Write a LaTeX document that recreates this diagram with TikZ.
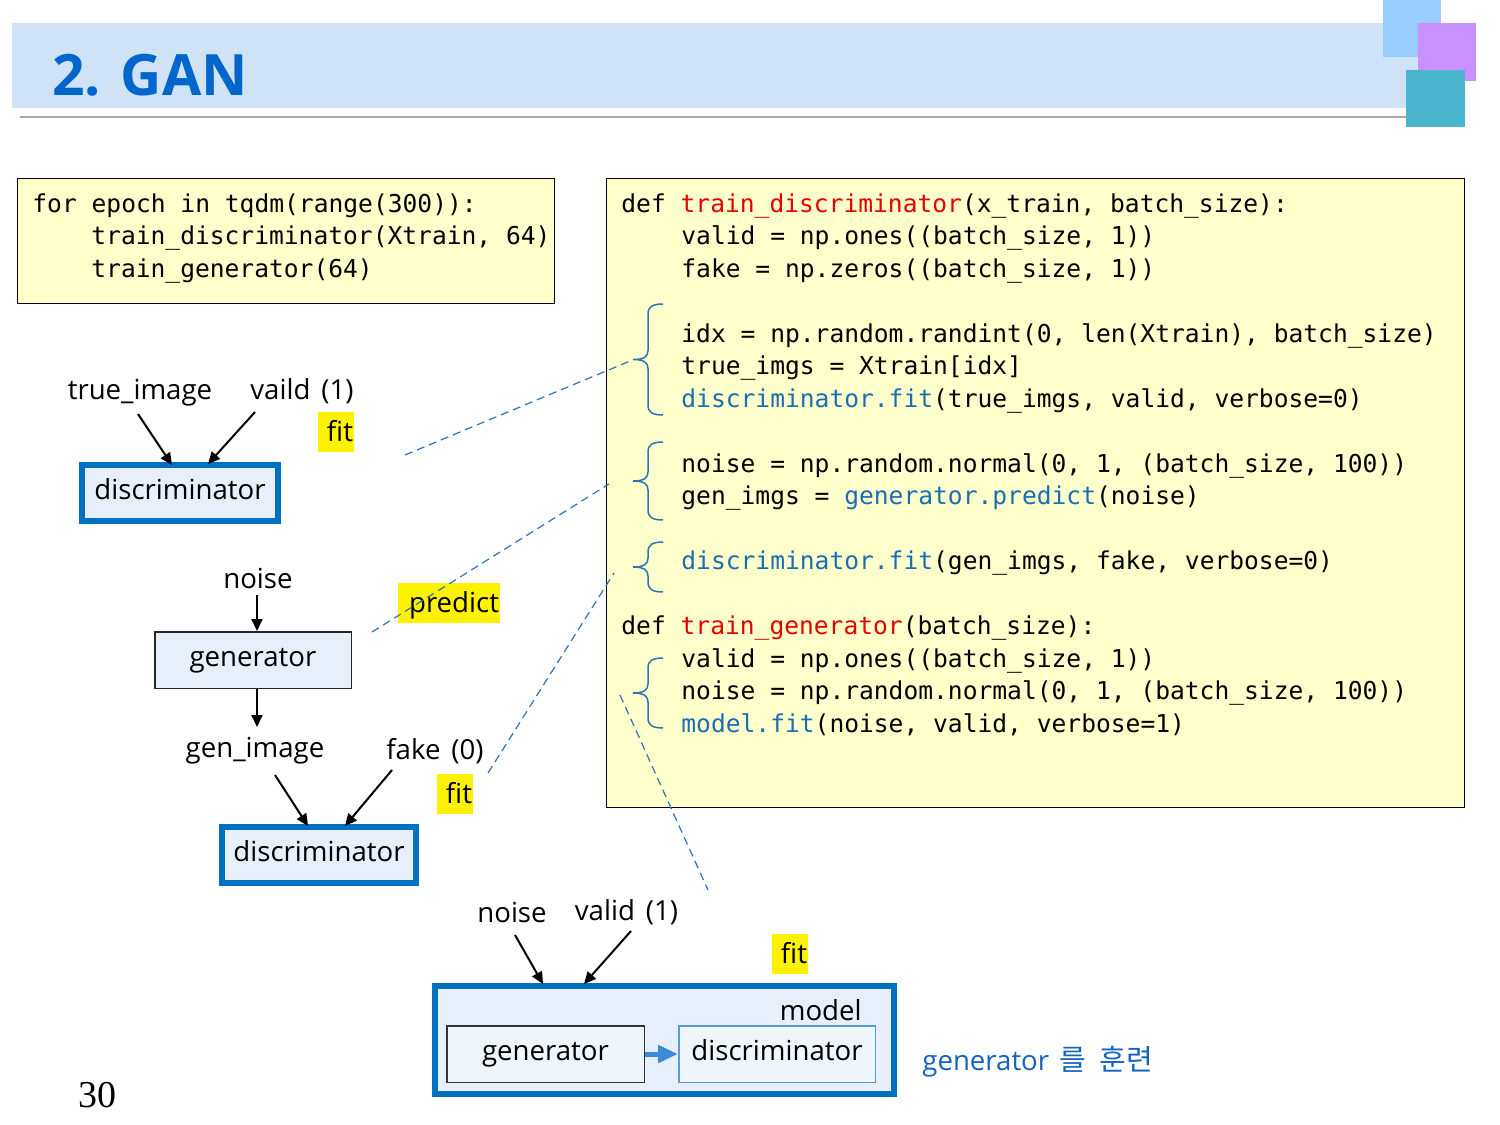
\documentclass[tikz,border=0pt]{standalone}
\usepackage{fontspec}
\setmainfont{Liberation Serif}
\setsansfont{Open Sans}
\newfontfamily\codefont{DejaVu Sans Mono}
\newfontfamily\krfont{Noto Sans CJK KR}
\usetikzlibrary{arrows.meta,calc}

\definecolor{bandblue}{RGB}{207,226,246}
\definecolor{titleblue}{RGB}{0,102,204}
\definecolor{sqone}{RGB}{153,204,255}
\definecolor{sqtwo}{RGB}{200,145,255}
\definecolor{sqthree}{RGB}{75,180,206}
\definecolor{rulegray}{RGB}{170,170,170}
\definecolor{codefill}{RGB}{255,255,204}
\definecolor{fnred}{RGB}{230,0,0}
\definecolor{callblue}{RGB}{25,110,180}
\definecolor{linkblue}{RGB}{46,117,182}
\definecolor{boxblue}{RGB}{0,112,192}
\definecolor{boxfill}{RGB}{230,239,250}
\definecolor{innerfill}{RGB}{238,245,251}
\definecolor{innerblue}{RGB}{91,155,213}
\definecolor{flowblue}{RGB}{60,138,216}
\definecolor{noteblue}{RGB}{20,100,190}

\newcommand{\fr}[1]{\textcolor{fnred}{#1}}
\newcommand{\fb}[1]{\textcolor{callblue}{#1}}
\newcommand{\gap}{\hspace{5.5pt}}

\tikzset{
  lbl/.style={font=\sffamily\fontsize{13.8}{16}\selectfont, inner sep=0, anchor=base},
  code/.style={font=\codefont\fontsize{12.3}{15}\selectfont, inner sep=0, anchor=base west},
  codebox/.style={draw=black, line width=0.7pt, fill=codefill},
  thickbox/.style={draw=boxblue, line width=3pt, fill=boxfill, inner sep=0,
    font=\sffamily\fontsize{13.8}{16}\selectfont, text height=10pt, text depth=4pt},
  thinbox/.style={draw=black!85, line width=0.75pt, fill=boxfill, inner sep=0,
    minimum width=98.25pt, minimum height=28.25pt,
    font=\sffamily\fontsize{13.8}{16}\selectfont, text height=10pt, text depth=4pt},
  hl/.style={fill=yellow, inner ysep=0, inner xsep=0.5pt, align=right, minimum height=20pt,
    font=\sffamily\fontsize{13.8}{16}\selectfont, text height=10.5pt, text depth=1pt},
  arr/.style={-{Triangle[length=6pt,width=5.5pt]}, line width=1pt},
  flow/.style={-{Triangle[length=10pt,width=8.5pt]}, line width=2.5pt, draw=flowblue},
  link/.style={draw=linkblue, line width=0.6pt, dash pattern=on 4pt off 2.5pt},
  bracket/.style={draw=linkblue, line width=0.75pt}
}

\begin{document}
\begin{tikzpicture}[x=0.5pt,y=-0.5pt]
\useasboundingbox (0,0) rectangle (1500,1125);
\fill[white] (0,0) rectangle (1500,1125);

% title band
\fill[bandblue] (12,23) rectangle (1420,108);
\draw[rulegray, line width=1pt] (20,117) -- (1406,117);
\fill[sqone] (1383,0) rectangle (1441,57);
\fill[sqtwo] (1418,23) rectangle (1476,81);
\fill[sqthree] (1406,70) rectangle (1465,127);
\node[anchor=base west, inner sep=0, text=titleblue,
      font=\sffamily\bfseries\fontsize{28.5}{34}\selectfont] (title) at (52,95) {2. GAN};

% training loop
\node[codebox, minimum width=268.25pt, minimum height=62.25pt] (loop) at (286,241) {};
\node[code] (l0) at (32,212) {for epoch in tqdm(range(300)):};
\node[code] (l1) at (91,244.5) {train\_discriminator(Xtrain, 64)};
\node[code] (l2) at (91,277) {train\_generator(64)};

% training functions
\node[codebox, minimum width=428.75pt, minimum height=314.25pt] (funcs) at (1035.5,493) {};
\node[code] (k0) at (621,212) {def \fr{train\_discriminator}(x\_train, batch\_size):};
\node[code] (k1) at (681,244.5) {valid = np.ones((batch\_size, 1))};
\node[code] (k2) at (681,277) {fake = np.zeros((batch\_size, 1))};
\node[code] (k4) at (681,342) {idx = np.random.randint(0, len(Xtrain), batch\_size)};
\node[code] (k5) at (681,374.5) {true\_imgs = Xtrain[idx]};
\node[code] (k6) at (681,407) {\fb{discriminator.fit}(true\_imgs, valid, verbose=0)};
\node[code] (k8) at (681,472) {noise = np.random.normal(0, 1, (batch\_size, 100))};
\node[code] (k9) at (681,504.5) {gen\_imgs = \fb{generator.predict}(noise)};
\node[code] (k11) at (681,569.5) {\fb{discriminator.fit}(gen\_imgs, fake, verbose=0)};
\node[code] (k13) at (621,634.5) {def \fr{train\_generator}(batch\_size):};
\node[code] (k14) at (681,667) {valid = np.ones((batch\_size, 1))};
\node[code] (k15) at (681,699.5) {noise = np.random.normal(0, 1, (batch\_size, 100))};
\node[code] (k16) at (681,732) {\fb{model.fit}(noise, valid, verbose=1)};

% braces grouping the code steps
\foreach \t/\b in {304/415, 442/520, 542/592, 658/728} {
  \pgfmathsetmacro{\m}{(\t+\b)/2}
  \draw[bracket] (663,\t) .. controls (652,\t) and (648,\t+3) .. (648,\t+10)
    -- (648,\m-9) .. controls (648,\m-3) and (644,\m) .. (633,\m)
    .. controls (644,\m) and (648,\m+3) .. (648,\m+9)
    -- (648,\b-10) .. controls (648,\b-3) and (652,\b) .. (663,\b);
}

% step 1: discriminator on real images
\node[thickbox, minimum width=98pt, minimum height=28pt] (d1) at (180,493) {discriminator};
\node[lbl] (ti) at (140,399) {true\_image};
\node[lbl] (va) at (302,399) {vaild\gap(1)};
\node[hl, text width=17pt] (fit1) at (336,432) {fit};
\draw[arr] ($(ti.base)+(-2,15)$) -- ($(d1.north)+(-8,3)$);
\draw[arr] ($(va.base)+(-47,13)$) -- ($(d1.north)+(28,2)$);

% step 2: generator makes images
\node[lbl] (n2) at (258,588) {noise};
\node[thinbox] (g2) at (253,660) {generator};
\node[lbl] (gi) at (255,757) {gen\_image};
\node[hl, text width=50pt] (pred) at (449,603) {predict};
\draw[arr] ($(n2.base)+(-1,7)$) -- ($(g2.north)+(4,0)$);
\draw[arr] ($(g2.south)+(4,0)$) -- ($(gi.base)+(2,-30)$);

% step 3: discriminator on generated images
\node[thickbox, minimum width=97pt, minimum height=28pt] (d2) at (319,855) {discriminator};
\node[lbl] (fk) at (435,759) {fake\gap(0)};
\node[hl, text width=17pt] (fit2) at (455,793.5) {fit};
\draw[arr] ($(gi.base)+(20,18)$) -- ($(d2.north)+(-11,2)$);
\draw[arr] ($(fk.base)+(-43,11)$) -- ($(d2.north)+(26,2)$);

% step 4: combined model trains the generator
\node[thickbox, minimum width=229.5pt, minimum height=54pt] (m) at (664.5,1040) {};
\node[lbl, anchor=base east] (mt) at (862,1020) {model};
\node[thinbox, draw=black!80, fill=innerfill, minimum width=98.75pt] (g3) at (545.5,1054) {generator};
\node[thinbox, draw=innerblue, fill=innerfill] (d3) at (777,1054) {discriminator};
\draw[flow] (g3.east) -- (d3.west);
\node[lbl] (n3) at (512,922) {noise};
\node[lbl] (v3) at (626.5,920) {valid\gap(1)};
\node[hl, text width=17pt] (fit3) at (790,954) {fit};
\draw[arr] ($(n3.base)+(3,13)$) -- ($(m.north west)+(111,1)$);
\draw[arr] ($(v3.base)+(4.5,11)$) -- ($(m.north west)+(152,1)$);

\node[lbl, anchor=base west, text=noteblue] (note) at (922,1070)
  {generator\hspace{5pt}{\krfont\fontsize{14.5}{16}\selectfont 를\hspace{7pt}훈련}};
\node[anchor=base west, inner sep=0, font=\rmfamily\fontsize{19}{22}\selectfont] (pg) at (78,1107) {30};

% dashed links from the diagrams to the code
\coordinate (a1) at (405,455);  \coordinate (b1) at (630,361);
\coordinate (a2) at (372,632);  \coordinate (b2) at (609,484);
\coordinate (a3) at (488,773);  \coordinate (b3) at (614,573);
\coordinate (a4) at (620,695);  \coordinate (b4) at (708,890);
\draw[link] (a1) -- (b1);
\draw[link] (a2) -- (b2);
\draw[link] (a3) -- (b3);
\draw[link] (a4) -- (b4);
\end{tikzpicture}
\end{document}
